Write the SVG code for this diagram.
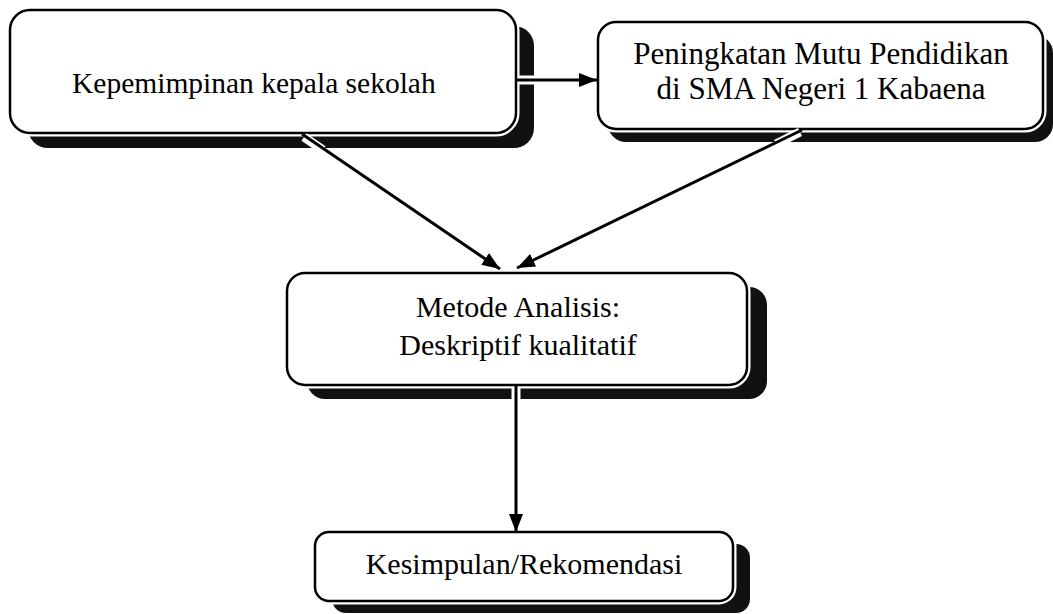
<svg xmlns="http://www.w3.org/2000/svg" width="1053" height="614" viewBox="0 0 1053 614">
  <style>
    .shadow { fill: #111; }
    .halo-box { fill: none; stroke: #fff; stroke-width: 7; }
    .box { fill: #fff; stroke: #000; stroke-width: 2.5; }
    .label { font-family: "Liberation Serif", "Times New Roman", serif; font-size: 30px; fill: #000; text-anchor: middle; }
    .edge { fill: none; stroke: #000; stroke-width: 3; }
    .halo { fill: none; stroke: #fff; stroke-width: 9; }
  </style>
  <defs>
    <marker id="arrow" viewBox="0 0 18 14" refX="18" refY="7" markerWidth="18" markerHeight="14" markerUnits="userSpaceOnUse" orient="auto">
      <path d="M0,0 L18,7 L0,14 Z" fill="#000"/>
    </marker>
  </defs>
  <rect width="1053" height="614" fill="#fff"/>

  <g id="node-kepemimpinan">
    <rect class="shadow" x="28" y="26" width="506" height="122" rx="20"/>
    <rect class="halo-box" x="10" y="10" width="506" height="123" rx="20"/>
    <rect class="box" x="10" y="10" width="506" height="123" rx="20"/>
    <text class="label" x="72" y="93" style="text-anchor:start;font-size:29.5px">Kepemimpinan kepala sekolah</text>
  </g>

  <g id="node-peningkatan">
    <rect class="shadow" x="608" y="35" width="445" height="107" rx="18"/>
    <rect class="halo-box" x="598" y="22" width="445" height="107" rx="18"/>
    <rect class="box" x="598" y="22" width="445" height="107" rx="18"/>
    <text class="label" x="821" y="64" style="font-size:31px">Peningkatan Mutu Pendidikan</text>
    <text class="label" x="821" y="99" style="font-size:31px">di SMA Negeri 1 Kabaena</text>
  </g>

  <g id="node-metode">
    <rect class="shadow" x="307" y="287" width="460" height="112" rx="18"/>
    <rect class="halo-box" x="287" y="273" width="460" height="112" rx="18"/>
    <rect class="box" x="287" y="273" width="460" height="112" rx="18"/>
    <text class="label" x="518" y="317">Metode Analisis:</text>
    <text class="label" x="518" y="355">Deskriptif kualitatif</text>
  </g>

  <g id="node-kesimpulan">
    <rect class="shadow" x="332" y="544" width="418" height="69" rx="14"/>
    <rect class="halo-box" x="315" y="532" width="418" height="69" rx="14"/>
    <rect class="box" x="315" y="532" width="418" height="69" rx="14"/>
    <text class="label" x="524" y="574">Kesimpulan/Rekomendasi</text>
  </g>

  <g id="connectors">
    <line class="halo" x1="519" y1="80" x2="537" y2="80"/>
    <line class="halo" x1="304" y1="137" x2="323" y2="150"/>
    <line class="halo" x1="800" y1="132" x2="776" y2="144"/>
    <line class="halo" x1="516" y1="388" x2="516" y2="401"/>
    <line class="edge" x1="517" y1="80" x2="597" y2="80" marker-end="url(#arrow)"/>
    <line class="edge" x1="302" y1="134" x2="500" y2="269" marker-end="url(#arrow)"/>
    <line class="edge" x1="802" y1="130" x2="517" y2="268" marker-end="url(#arrow)"/>
    <line class="edge" x1="516" y1="386" x2="516" y2="532" marker-end="url(#arrow)"/>
  </g>
</svg>
